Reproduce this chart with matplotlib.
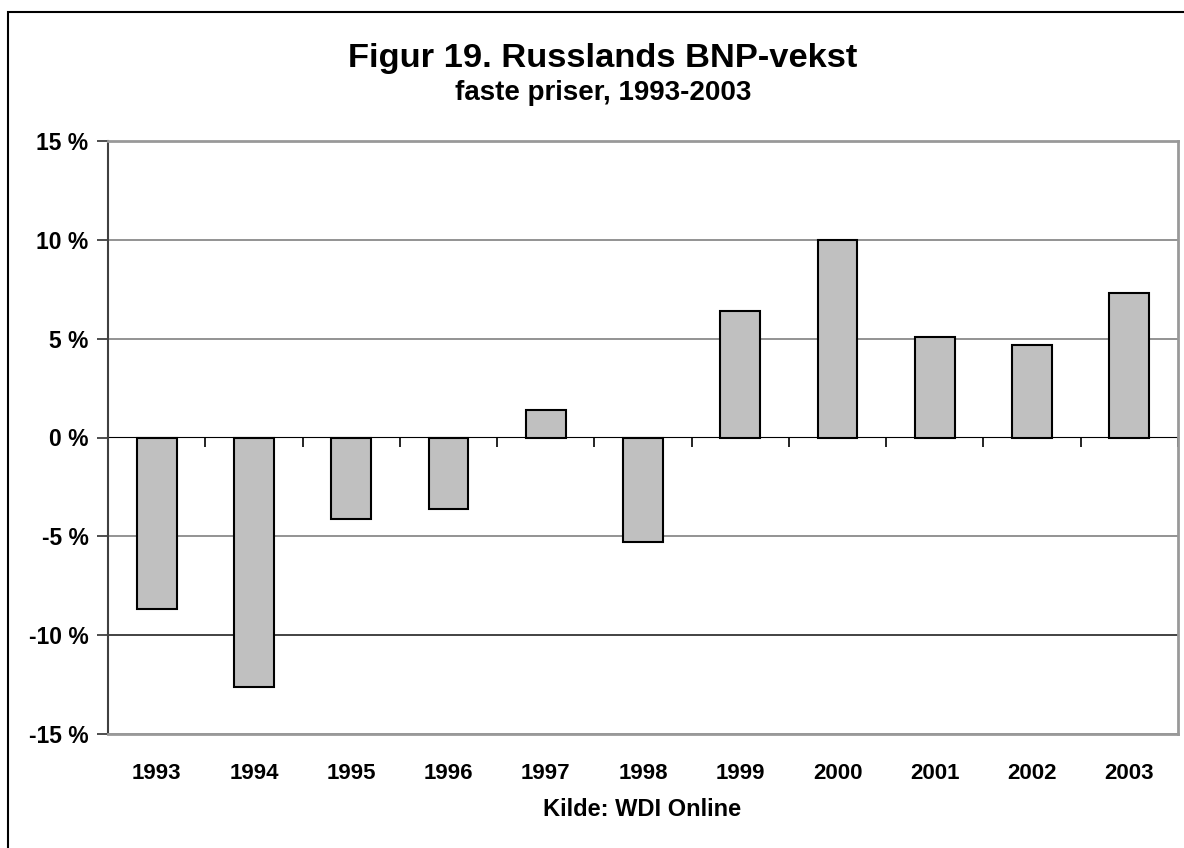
import numpy as np
import matplotlib.pyplot as plt
from matplotlib.patches import Rectangle

# data
years = ['1993', '1994', '1995', '1996', '1997', '1998',
         '1999', '2000', '2001', '2002', '2003']
growth = [-8.7, -12.6, -4.1, -3.6, 1.4, -5.3, 6.4, 10.0, 5.1, 4.7, 7.3]
yticks = [-15, -10, -5, 0, 5, 10, 15]

plt.rcParams['font.family'] = ['Liberation Sans', 'DejaVu Sans']
plt.rcParams['font.weight'] = 'bold'

W, H = 1184, 848
fig = plt.figure(figsize=(W / 100, H / 100), dpi=100)
ax = fig.add_axes([108 / W, 1 - 734 / H, (1178 - 108) / W, (734 - 141) / H])

x = np.arange(len(years))

# gridlines
for v in yticks:
    if v == 0:
        continue
    col = '#222222' if v == -10 else '#808080'
    ax.axhline(v, color=col, lw=1.2, zorder=1)

ax.bar(x, growth, width=0.41, color='#c0c0c0', edgecolor='black',
       linewidth=1.5, zorder=3)

ax.set_xlim(-0.5, len(years) - 0.5)
ax.set_ylim(-15, 15)

ax.set_yticks(yticks)
ax.set_yticklabels([f'{v} %' for v in yticks], fontsize=16.5, fontweight='bold')
ax.tick_params(axis='y', direction='out', length=8, width=1.2,
               color='#303030', pad=6)

ax.set_xticks(x)
ax.set_xticklabels(years, fontsize=16, fontweight='bold')
ax.tick_params(axis='x', length=0, pad=21)

for s in ['top', 'right', 'bottom']:
    ax.spines[s].set_color('#999999')
    ax.spines[s].set_linewidth(2)
ax.spines['left'].set_color('#404040')
ax.spines['left'].set_linewidth(1.5)

# zero line with category ticks (pointing down)
sec = ax.secondary_xaxis(0.5)
sec.set_xticks(np.arange(len(years) + 1) - 0.5)
sec.set_xticklabels([])
sec.tick_params(direction='in', length=7, width=1.2, color='black')
sec.spines['bottom'].set_color('black')
sec.spines['bottom'].set_linewidth(1.5)
sec.spines['bottom'].set_zorder(4)

# titles
fig.text(603 / W, 1 - 59 / H, 'Figur 19. Russlands BNP-vekst',
         ha='center', va='center', fontsize=24.8, fontweight='bold')
fig.text(603 / W, 1 - 93 / H, 'faste priser, 1993-2003',
         ha='center', va='center', fontsize=20, fontweight='bold')
fig.text(642 / W, 1 - 810 / H, 'Kilde: WDI Online',
         ha='center', va='center', fontsize=17, fontweight='bold')

# outer frame
fig.patches.append(Rectangle((8 / W, -0.05), 1.2, 1 - 12 / H + 0.05,
                             transform=fig.transFigure, fill=False,
                             edgecolor='black', linewidth=1.5))

fig.savefig('out.png', dpi=100)
